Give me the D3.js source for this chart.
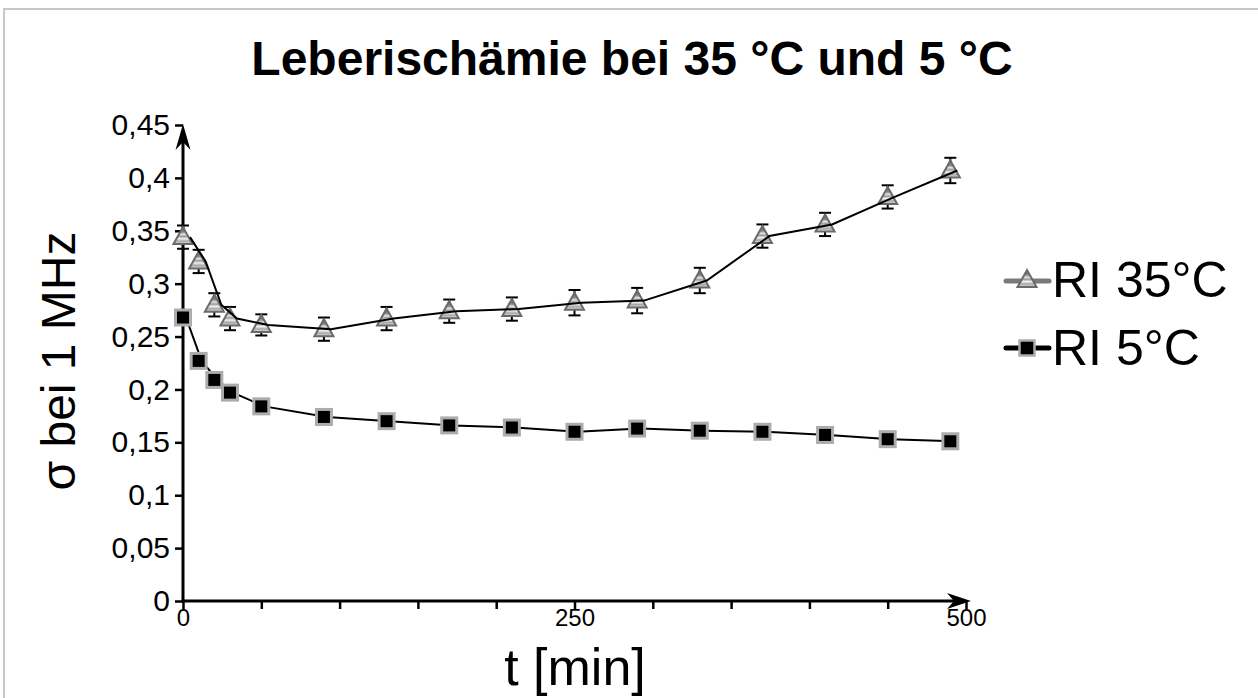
<!DOCTYPE html>
<html>
<head>
<meta charset="utf-8">
<script src="https://cdn.jsdelivr.net/npm/d3@7/dist/d3.min.js"></script>
<style>
  html, body { margin: 0; padding: 0; background: #fff; }
  svg { display: block; font-family: "Liberation Sans", Arial, sans-serif; }
</style>
</head>
<body>
<svg id="chart" width="1258" height="698"></svg>
<script>
// ---- data ----
const times = [0, 10, 20, 30, 50, 90, 130, 170, 210, 250, 290, 330, 370, 410, 450, 490];
const ri35 = [0.344, 0.321, 0.280, 0.267, 0.261, 0.257, 0.267, 0.274, 0.276, 0.282, 0.284, 0.303, 0.345, 0.356, 0.382, 0.407];
const ri35Err = [0.011, 0.011, 0.011, 0.011, 0.010, 0.011, 0.011, 0.011, 0.011, 0.012, 0.012, 0.012, 0.011, 0.011, 0.011, 0.012];
const ri5 = [0.268, 0.227, 0.209, 0.197, 0.184, 0.174, 0.170, 0.166, 0.164, 0.160, 0.163, 0.161, 0.160, 0.157, 0.153, 0.151];
const yTicks = [0, 0.05, 0.1, 0.15, 0.2, 0.25, 0.3, 0.35, 0.4, 0.45];
const xTicks = [0, 50, 100, 150, 200, 250, 300, 350, 400, 450, 500];
const xLabelTicks = [0, 250, 500];
const seriesNames = ["RI 35°C", "RI 5°C"];
const title = "Leberischämie bei 35 °C und 5 °C";
const yTitle = "σ bei 1 MHz";
const xTitle = "t [min]";

const svg = d3.select("#chart");
const locale = d3.formatLocale({decimal: ",", thousands: ".", grouping: [3], currency: ["", "€"]});
const fmt = locale.format(".2~f");

// border frame
svg.append("rect").attr("x", 4).attr("y", 9).attr("width", 1270).attr("height", 700)
  .attr("fill", "#fff").attr("stroke", "#c8c8c8").attr("stroke-width", 2);

// gradient for triangles
const defs = svg.append("defs");
const grad = defs.append("linearGradient").attr("id", "triGrad").attr("x1", 0).attr("y1", 0).attr("x2", 0).attr("y2", 1);
[[0, "#5e5e5e"], [0.3, "#8a8a8a"], [0.42, "#e6e6e6"], [0.55, "#9a9a9a"], [0.68, "#f2f2f2"], [0.82, "#a8a8a8"], [1, "#e0e0e0"]]
  .forEach(([o, c]) => grad.append("stop").attr("offset", o).attr("stop-color", c));

const x = d3.scaleLinear().domain([0, 500]).range([183, 966]);
const y = d3.scaleLinear().domain([0, 0.45]).range([601, 125]);

// title
svg.append("text").attr("x", 632).attr("y", 75).attr("text-anchor", "middle")
  .attr("font-size", 48).attr("font-weight", "bold").attr("fill", "#000").text(title);

// y axis
const yAxis = d3.axisLeft(y).tickValues(yTicks).tickFormat(fmt).tickSize(8).tickPadding(5);
const gy = svg.append("g").attr("transform", `translate(${x(0)},0)`).call(yAxis);
gy.select(".domain").remove();
gy.selectAll(".tick line").attr("stroke", "#000").attr("stroke-width", 2.5);
gy.selectAll(".tick text").attr("font-size", 30).attr("fill", "#000").attr("font-family", "Liberation Sans, Arial, sans-serif");

// x axis
const xAxis = d3.axisBottom(x).tickValues(xTicks).tickFormat(d => xLabelTicks.includes(d) ? d : "").tickSize(8).tickPadding(0);
const gx = svg.append("g").attr("transform", `translate(0,${y(0)})`).call(xAxis);
gx.select(".domain").remove();
gx.selectAll(".tick line").attr("stroke", "#000").attr("stroke-width", 2.5);
gx.selectAll(".tick text").attr("font-size", 24).attr("fill", "#000").attr("font-family", "Liberation Sans, Arial, sans-serif");

// axis lines with arrows
const x0 = x(0), y0 = y(0);
const yTop = y(0.45) - 1;
svg.append("line").attr("x1", x0).attr("y1", y0).attr("x2", x0).attr("y2", yTop + 10)
  .attr("stroke", "#000").attr("stroke-width", 3);
svg.append("path").attr("d", `M${x0},${yTop} L${x0 - 7.5},${yTop + 26} L${x0},${yTop + 18} L${x0 + 7.5},${yTop + 26} Z`).attr("fill", "#000");
const xEnd = x(500) + 5;
svg.append("line").attr("x1", x0 - 1.5).attr("y1", y0).attr("x2", xEnd - 10).attr("y2", y0)
  .attr("stroke", "#000").attr("stroke-width", 3);
svg.append("path").attr("d", `M${xEnd},${y0} L${xEnd - 24},${y0 - 8} L${xEnd - 17},${y0} L${xEnd - 24},${y0 + 8} Z`).attr("fill", "#000");

// axis titles
svg.append("text").attr("transform", `translate(75,361) rotate(-90)`).attr("text-anchor", "middle")
  .attr("font-size", 48).attr("fill", "#000").text(yTitle);
svg.append("text").attr("x", 575).attr("y", 685).attr("text-anchor", "middle")
  .attr("font-size", 52).attr("fill", "#000").text(xTitle);

const triPath = "M0,-10 L9.5,7 L-9.5,7 Z";

// RI 5°C line and markers
const line = d3.line().x((d, i) => x(times[i])).y(d => y(d));
svg.append("path").datum(ri5).attr("d", line).attr("transform", "translate(3,0)")
  .attr("fill", "none").attr("stroke", "#000").attr("stroke-width", 2);
svg.selectAll(".sq").data(ri5).enter().append("rect").attr("class", "sq")
  .attr("x", (d, i) => x(times[i]) - 7.5).attr("y", d => y(d) - 7.5).attr("width", 15).attr("height", 15)
  .attr("fill", "#000").attr("stroke", "#acacac").attr("stroke-width", 3);

// RI 35°C error bars
const eb = svg.append("g").attr("stroke", "#000").attr("stroke-width", 2);
ri35.forEach((v, i) => {
  const cx = x(times[i]), t = y(v + ri35Err[i]), b = y(v - ri35Err[i]);
  eb.append("line").attr("x1", cx).attr("x2", cx).attr("y1", t).attr("y2", b);
  eb.append("line").attr("x1", cx - 6).attr("x2", cx + 6).attr("y1", t).attr("y2", t);
  eb.append("line").attr("x1", cx - 6).attr("x2", cx + 6).attr("y1", b).attr("y2", b);
});
svg.selectAll(".tri").data(ri35).enter().append("path").attr("class", "tri")
  .attr("transform", (d, i) => `translate(${x(times[i])},${y(d)})`).attr("d", triPath)
  .attr("fill", "url(#triGrad)").attr("stroke", "#6a6a6a").attr("stroke-width", 2);
svg.append("path").datum(ri35).attr("d", line).attr("transform", "translate(7,0)")
  .attr("fill", "none").attr("stroke", "#000").attr("stroke-width", 2);

// legend
const lg = svg.append("g");
lg.append("line").attr("x1", 1006).attr("x2", 1049).attr("y1", 281).attr("y2", 281)
  .attr("stroke", "#7a7a7a").attr("stroke-width", 5).attr("stroke-linecap", "round");
lg.append("path").attr("transform", "translate(1027,280)").attr("d", triPath)
  .attr("fill", "url(#triGrad)").attr("stroke", "#6a6a6a").attr("stroke-width", 2);
lg.append("text").attr("x", 1052).attr("y", 297).attr("font-size", 50).attr("fill", "#000").text(seriesNames[0]);
lg.append("line").attr("x1", 1006).attr("x2", 1049).attr("y1", 348).attr("y2", 348)
  .attr("stroke", "#000").attr("stroke-width", 5).attr("stroke-linecap", "round");
lg.append("rect").attr("x", 1019.5).attr("y", 340.5).attr("width", 15).attr("height", 15)
  .attr("fill", "#000").attr("stroke", "#acacac").attr("stroke-width", 2.5);
lg.append("text").attr("x", 1052).attr("y", 365).attr("font-size", 50).attr("fill", "#000").text(seriesNames[1]);
</script>
</body>
</html>
